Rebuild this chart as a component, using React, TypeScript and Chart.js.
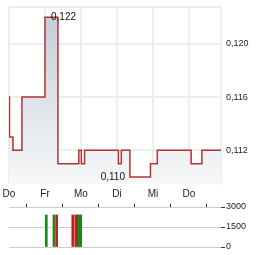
import React, { useEffect, useRef } from 'react';
import { Chart, registerables } from 'chart.js';

Chart.register(...registerables);

const FONT = 'Arial, "Liberation Sans", sans-serif';

// x positions are in trading-day units (0 = first "Do")
const dayLabels = ['Do', 'Fr', 'Mo', 'Di', 'Mi', 'Do'];
const dayTicks = [0, 1, 2, 3, 4, 5];
const xMax = 5.89;

const priceX = [0, 0.014, 0.11, 0.36, 1.0, 1.36, 1.94, 2.01, 2.1, 3.04, 3.12, 3.36, 3.93, 4.12, 5.06, 5.36, 5.89];
const priceY = [0.116, 0.113, 0.112, 0.116, 0.122, 0.111, 0.112, 0.111, 0.112, 0.111, 0.112, 0.11, 0.111, 0.112, 0.111, 0.112, 0.112];
const priceTicks = [0.112, 0.116, 0.12];
const priceMin = 0.10947;
const priceMax = 0.12277;

const volX = [1.036, 1.25, 1.325, 1.772, 1.856, 1.903, 1.95, 1.994];
const volY = [2400, 2400, 2400, 2400, 2400, 2400, 2400, 2400];
const volUp = [true, true, false, false, false, false, true, true];
const volTicks = [0, 1500, 3000];
const volMax = 3000;

const fmt = (v: number) => v.toFixed(3).replace('.', ',');

const zeroPad = (s: any) => {
  s.paddingLeft = 0;
  s.paddingRight = 0;
  s.paddingTop = 0;
  s.paddingBottom = 0;
};

const minMaxLabels = {
  id: 'minMaxLabels',
  afterDatasetsDraw(chart: any) {
    const { ctx, scales } = chart;
    const x = scales.x;
    const y = scales.y;
    const maxV = Math.max(...priceY);
    const minV = Math.min(...priceY);
    const maxI = priceY.indexOf(maxV);
    const minI = priceY.indexOf(minV);
    ctx.save();
    ctx.font = `10px ${FONT}`;
    ctx.fillStyle = '#111';
    ctx.textBaseline = 'middle';
    ctx.textAlign = 'left';
    ctx.fillText(fmt(maxV), x.getPixelForValue(priceX[maxI]) + 6, y.getPixelForValue(maxV));
    ctx.textAlign = 'right';
    ctx.fillText(fmt(minV), x.getPixelForValue(priceX[minI]) - 5, y.getPixelForValue(minV));
    ctx.restore();
  },
};

export default function App() {
  const priceRef = useRef<HTMLCanvasElement>(null);
  const volRef = useRef<HTMLCanvasElement>(null);

  useEffect(() => {
    const priceChart = new Chart(priceRef.current as HTMLCanvasElement, {
      type: 'line',
      data: {
        datasets: [
          {
            data: priceX.map((x, i) => ({ x, y: priceY[i] })),
            stepped: 'before',
            borderColor: '#b83232',
            borderWidth: 1.5,
            pointRadius: 0,
            fill: 'start',
            backgroundColor: (c: any) => {
              const area = c.chart.chartArea;
              if (!area) return '#dde4ea';
              const g = c.chart.ctx.createLinearGradient(0, area.top, 0, area.bottom);
              g.addColorStop(0, '#bfccd7');
              g.addColorStop(1, '#f7f8f9');
              return g;
            },
          },
        ],
      },
      options: {
        animation: false,
        responsive: false,
        maintainAspectRatio: false,
        layout: { padding: { left: 9, top: 7, right: 0, bottom: 0 } },
        plugins: { legend: { display: false }, tooltip: { enabled: false } },
        scales: {
          x: {
            type: 'linear',
            min: 0,
            max: xMax,
            afterBuildTicks: (s: any) => {
              s.ticks = dayTicks.map((v) => ({ value: v }));
            },
            ticks: {
              callback: (_v: any, i: number) => dayLabels[i] ?? '',
              font: { size: 10, family: FONT },
              color: '#222',
              padding: 4,
              maxRotation: 0,
              autoSkip: false,
            },
            grid: { color: '#eeeeee', lineWidth: 2, drawTicks: false },
            border: { display: false },
            afterFit: (s: any) => {
              s.height = 16;
              zeroPad(s);
            },
          },
          y: {
            type: 'linear',
            position: 'right',
            min: priceMin,
            max: priceMax,
            afterBuildTicks: (s: any) => {
              s.ticks = [...priceTicks, priceMax].map((v) => ({ value: v }));
            },
            ticks: {
              callback: (v: any) => (priceTicks.includes(v) ? fmt(v) : ''),
              font: { size: 9, family: FONT },
              color: '#222',
              padding: 5,
            },
            grid: { color: '#eeeeee', lineWidth: 2, drawTicks: false },
            border: { display: true, color: '#eeeeee', width: 2 },
            afterFit: (s: any) => {
              s.width = 43;
              zeroPad(s);
            },
          },
        },
      } as any,
      plugins: [minMaxLabels],
    });

    const volChart = new Chart(volRef.current as HTMLCanvasElement, {
      type: 'bar',
      data: {
        datasets: [
          {
            data: volX.map((x, i) => ({ x, y: volY[i] })),
            backgroundColor: volUp.map((u) => (u ? '#178a17' : '#b52525')),
            barThickness: 2,
            grouped: false,
          } as any,
        ],
      },
      options: {
        animation: false,
        responsive: false,
        maintainAspectRatio: false,
        layout: { padding: { left: 9, top: 0, right: 0, bottom: 8 } },
        plugins: { legend: { display: false }, tooltip: { enabled: false } },
        scales: {
          x: {
            type: 'linear',
            position: 'top',
            min: 0,
            max: xMax,
            offset: false,
            afterBuildTicks: (s: any) => {
              s.ticks = dayTicks.map((v) => ({ value: v }));
            },
            ticks: { display: false },
            grid: { drawOnChartArea: false, drawTicks: true, tickLength: 3, tickColor: '#222', lineWidth: 1 },
            border: { display: false },
            afterFit: (s: any) => {
              s.height = 7;
              zeroPad(s);
            },
          },
          y: {
            type: 'linear',
            position: 'right',
            min: 0,
            max: volMax,
            afterBuildTicks: (s: any) => {
              s.ticks = volTicks.map((v) => ({ value: v }));
            },
            ticks: {
              callback: (v: any) => String(v),
              font: { size: 9, family: FONT },
              color: '#222',
              padding: 1,
            },
            grid: { color: '#cccccc', lineWidth: 1, tickLength: 4, tickColor: '#333' },
            border: { display: false },
            afterFit: (s: any) => {
              s.width = 43;
              zeroPad(s);
            },
          },
        },
      } as any,
    });

    return () => {
      priceChart.destroy();
      volChart.destroy();
    };
  }, []);

  return (
    <div style={{ position: 'absolute', left: 0, top: 0, width: 264, height: 255, background: '#fff' }}>
      <canvas ref={priceRef} width={264} height={200} style={{ position: 'absolute', left: 0, top: 0 }} />
      <canvas ref={volRef} width={264} height={55} style={{ position: 'absolute', left: 0, top: 200 }} />
    </div>
  );
}
